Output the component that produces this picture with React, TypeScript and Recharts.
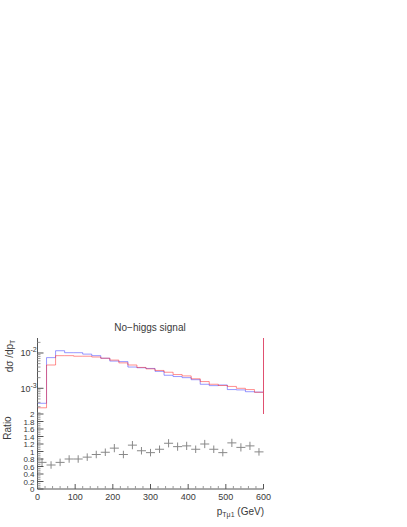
import React from 'react';
import { ComposedChart, Line, Scatter, ErrorBar, XAxis, YAxis, ReferenceLine } from 'recharts';

// 25 bins of 24 GeV
const binEdges = [0, 24, 48, 72, 96, 120, 144, 168, 192, 216, 240, 264, 288, 312, 336, 360, 384, 408, 432, 456, 480, 504, 528, 552, 576, 600];
const binCenters = [12, 36, 60, 84, 108, 132, 156, 180, 204, 228, 252, 276, 300, 324, 348, 372, 396, 420, 444, 468, 492, 516, 540, 564, 588];

const redSignal = [2.8e-4, 4.57e-3, 8.4e-3, 8.4e-3, 8.1e-3, 8.1e-3, 7.7e-3, 7.1e-3, 6.3e-3, 5.25e-3, 4.57e-3, 3.9e-3, 3.55e-3, 3.2e-3, 2.85e-3, 2.45e-3, 2.24e-3, 1.86e-3, 1.55e-3, 1.3e-3, 1.2e-3, 1.13e-3, 1.0e-3, 0.92e-3, 0.77e-3];
const blueSignal = [3.76e-4, 7.4e-3, 1.16e-2, 1.02e-2, 1.02e-2, 9.3e-3, 8.4e-3, 7.1e-3, 5.9e-3, 5.7e-3, 4.0e-3, 3.82e-3, 3.65e-3, 3.02e-3, 2.34e-3, 2.15e-3, 2.0e-3, 1.75e-3, 1.3e-3, 1.19e-3, 1.24e-3, 0.92e-3, 0.9e-3, 0.8e-3, 0.78e-3];

const ratio = [0.71, 0.64, 0.71, 0.8, 0.8, 0.85, 0.92, 0.98, 1.09, 0.92, 1.17, 1.02, 0.97, 1.06, 1.22, 1.13, 1.15, 1.06, 1.2, 1.06, 0.97, 1.23, 1.11, 1.15, 0.99];
const ratioErr = [0.11, 0.1, 0.1, 0.1, 0.1, 0.1, 0.1, 0.1, 0.11, 0.1, 0.11, 0.1, 0.1, 0.1, 0.11, 0.11, 0.11, 0.1, 0.11, 0.1, 0.1, 0.11, 0.11, 0.11, 0.1];

const xTicks = [0, 20, 40, 60, 80, 100, 120, 140, 160, 180, 200, 220, 240, 260, 280, 300, 320, 340, 360, 380, 400, 420, 440, 460, 480, 500, 520, 540, 560, 580, 600];
const logTicks = [2e-4, 3e-4, 4e-4, 5e-4, 6e-4, 7e-4, 8e-4, 9e-4, 1e-3, 2e-3, 3e-3, 4e-3, 5e-3, 6e-3, 7e-3, 8e-3, 9e-3, 1e-2, 2e-2];
const ratioMajor = [0, 0.2, 0.4, 0.6, 0.8, 1, 1.2, 1.4, 1.6, 1.8, 2];
const ratioLabels = ['0', '0.2', '0.4', '0.6', '0.8', '1', '1.2', '1.4', '1.6', '1.8', '2'];
const ratioTicks: number[] = [];
for (let i = 0; i <= 40; i++) ratioTicks.push(Math.round(i * 5) / 100);

const histData = binEdges.map((x, i) => ({
  x,
  red: redSignal[Math.min(i, redSignal.length - 1)],
  blue: blueSignal[Math.min(i, blueSignal.length - 1)],
}));
const ratioData = binCenters.map((x, i) => ({ x, r: ratio[i], ex: 12, ey: ratioErr[i] }));

const font = '"Liberation Sans", Arial, sans-serif';
const ink = '#3a3a3a';
const frame = '#555';
const minorInk = '#999';

const isMajorX = (v: number) => v % 100 === 0;

const xTickBottom = (labels: boolean) => (p: any) => {
  const v = p.payload.value;
  const major = isMajorX(v);
  return (
    <g>
      <line x1={p.x} x2={p.x} y1={p.y} y2={p.y - (major ? 5 : 3)} stroke={major ? frame : minorInk} strokeWidth={1} />
      {labels && major && (
        <text x={p.x} y={p.y + 11} textAnchor="middle" fontSize={9} fontFamily={font} fill={ink}>{v}</text>
      )}
    </g>
  );
};

const xTickTop = (p: any) => {
  const major = isMajorX(p.payload.value);
  return <line x1={p.x} x2={p.x} y1={p.y} y2={p.y + (major ? 5 : 3)} stroke={major ? frame : minorInk} strokeWidth={1} />;
};

const isDecade = (v: number) => Math.abs(Math.log10(v) - Math.round(Math.log10(v))) < 1e-6;

const logTickLeft = (p: any) => {
  const v = p.payload.value;
  const major = isDecade(v);
  return (
    <g>
      <line x1={p.x} x2={p.x + (major ? 6 : 3)} y1={p.y} y2={p.y} stroke={major ? frame : minorInk} strokeWidth={1} />
      {major && (
        <text x={p.x - 17} y={p.y + 3.5} fontSize={9} fontFamily={font} fill={ink}>
          10<tspan dy={-4} fontSize={7}>-{Math.round(-Math.log10(v))}</tspan>
        </text>
      )}
    </g>
  );
};

const logTickRight = (p: any) => {
  const major = isDecade(p.payload.value);
  return <line x1={p.x} x2={p.x - (major ? 6 : 3)} y1={p.y} y2={p.y} stroke={major ? frame : minorInk} strokeWidth={1} />;
};

const ratioTickLeft = (p: any) => {
  const v = p.payload.value;
  const idx = ratioMajor.findIndex((m) => Math.abs(m - v) < 1e-6);
  return (
    <g>
      <line x1={p.x} x2={p.x + (idx >= 0 ? 6 : 3)} y1={p.y} y2={p.y} stroke={idx >= 0 ? frame : minorInk} strokeWidth={1} />
      {idx >= 0 && (
        <text x={p.x - 3} y={p.y + 3} textAnchor="end" fontSize={8} fontFamily={font} fill={ink}>{ratioLabels[idx]}</text>
      )}
    </g>
  );
};

const ratioTickRight = (p: any) => {
  const major = ratioMajor.some((m) => Math.abs(m - p.payload.value) < 1e-6);
  return <line x1={p.x} x2={p.x - (major ? 6 : 3)} y1={p.y} y2={p.y} stroke={major ? frame : minorInk} strokeWidth={1} />;
};

const noDot = () => <g />;

export default function App() {
  return (
    <div style={{ position: 'absolute', left: 0, top: 0, width: 407, height: 527, background: '#fff' }}>
      <div style={{ position: 'absolute', left: 0, top: 330 }}>
        <ComposedChart width={300} height={90} data={histData} margin={{ top: 8, right: 36.5, left: 0, bottom: 6 }}>
          <XAxis dataKey="x" type="number" domain={[0, 600]} ticks={xTicks} interval={0} height={0}
            axisLine={{ stroke: frame }} tickLine={false} tickSize={0} tickMargin={0} tick={xTickBottom(false)} />
          <XAxis xAxisId="top" orientation="top" dataKey="x" type="number" domain={[0, 600]} ticks={xTicks} interval={0} height={0}
            axisLine={{ stroke: frame }} tickLine={false} tickSize={0} tickMargin={0} tick={xTickTop} />
          <YAxis scale="log" type="number" domain={[1.87e-4, 2.66e-2]} allowDataOverflow ticks={logTicks} interval={0} width={37.5}
            axisLine={{ stroke: frame }} tickLine={false} tickSize={0} tickMargin={0} tick={logTickLeft} />
          <YAxis yAxisId="right" orientation="right" scale="log" type="number" domain={[1.87e-4, 2.66e-2]} allowDataOverflow ticks={logTicks} interval={0} width={0}
            axisLine={false} tickLine={false} tickSize={0} tickMargin={0} tick={logTickRight} />
          <Line type="stepAfter" dataKey="blue" stroke="#3333ff" strokeOpacity={0.5} strokeWidth={1} dot={false} isAnimationActive={false} />
          <Line type="stepAfter" dataKey="red" stroke="#ff2222" strokeOpacity={0.5} strokeWidth={1} dot={false} isAnimationActive={false} />
          <ReferenceLine x={0} stroke="#c03050" strokeWidth={1} />
          <ReferenceLine x={600} stroke="#e05070" strokeWidth={1} />
        </ComposedChart>
      </div>
      <div style={{ position: 'absolute', left: 0, top: 406 }}>
        <ComposedChart width={300} height={100} data={ratioData} margin={{ top: 8, right: 36.5, left: 0, bottom: 0 }}>
          <XAxis dataKey="x" type="number" domain={[0, 600]} ticks={xTicks} interval={0} height={17}
            axisLine={{ stroke: frame }} tickLine={false} tickSize={0} tickMargin={0} tick={xTickBottom(true)} />
          <XAxis xAxisId="top" orientation="top" dataKey="x" type="number" domain={[0, 600]} ticks={xTicks} interval={0} height={0}
            axisLine={{ stroke: frame }} tickLine={false} tickSize={0} tickMargin={0} tick={xTickTop} />
          <YAxis dataKey="r" type="number" domain={[0, 2]} allowDataOverflow ticks={ratioTicks} interval={0} width={37.5}
            axisLine={{ stroke: frame }} tickLine={false} tickSize={0} tickMargin={0} tick={ratioTickLeft} />
          <YAxis yAxisId="right" orientation="right" type="number" domain={[0, 2]} allowDataOverflow ticks={ratioTicks} interval={0} width={0}
            axisLine={{ stroke: frame }} tickLine={false} tickSize={0} tickMargin={0} tick={ratioTickRight} />
          <Scatter dataKey="r" shape={noDot} isAnimationActive={false}>
            <ErrorBar dataKey="ex" direction="x" width={0} stroke="#888" strokeWidth={1} isAnimationActive={false} />
            <ErrorBar dataKey="ey" direction="y" width={0} stroke="#888" strokeWidth={1} isAnimationActive={false} />
          </Scatter>
        </ComposedChart>
      </div>
      <svg width={407} height={527} style={{ position: 'absolute', left: 0, top: 0, pointerEvents: 'none' }}>
        <text x={150} y={331} textAnchor="middle" fontSize={10} fontFamily={font} fill={ink}>No−higgs signal</text>
        <text x={13} y={356} transform="rotate(-90 13 356)" textAnchor="middle" fontSize={10} fontFamily={font} fill={ink}>
          dσ /dp<tspan dy={2} fontSize={7}>T</tspan>
        </text>
        <text x={11} y={428} transform="rotate(-90 11 428)" textAnchor="middle" fontSize={10} fontFamily={font} fill={ink}>Ratio</text>
        <text x={264} y={515} textAnchor="end" fontSize={10} fontFamily={font} fill={ink}>
          p<tspan dy={2} fontSize={7}>Tμ1</tspan><tspan dy={-2}> (GeV)</tspan>
        </text>
      </svg>
    </div>
  );
}
